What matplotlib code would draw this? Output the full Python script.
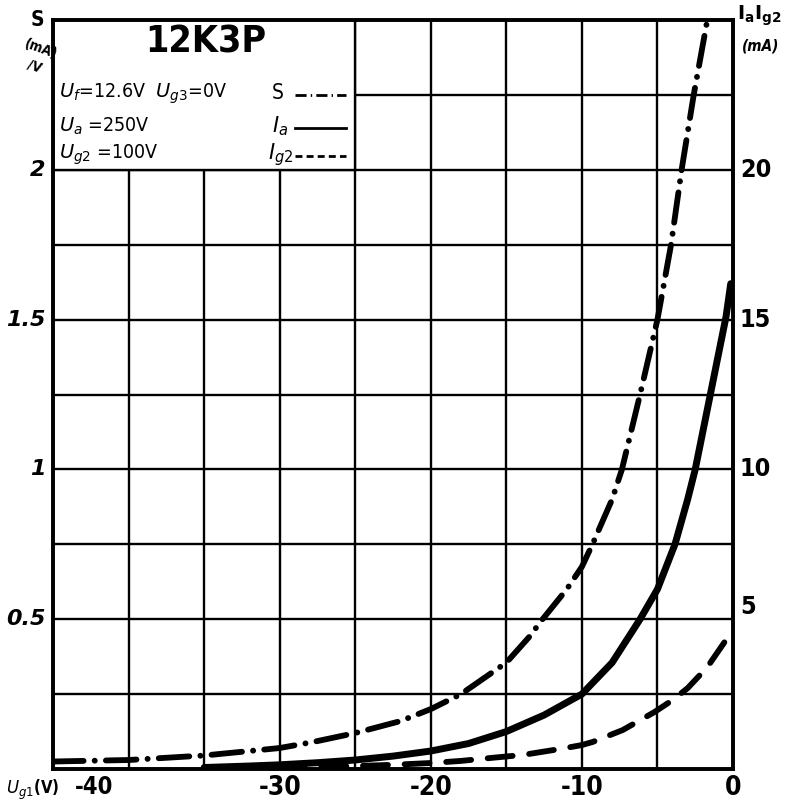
import matplotlib
matplotlib.use("Agg")
import matplotlib.pyplot as plt
from matplotlib.patches import Rectangle

# ---- data ----
s_v = [-45, -40, -35, -30, -27.8, -25, -22, -20, -18, -16, -15, -13.5, -12.6, -11, -10, -9.3, -8.0,
       -7.35, -6.15, -5.0, -4.1, -3.4, -2.6, -1.7]
s_val = [0.025, 0.03, 0.045, 0.07, 0.09, 0.12, 0.16, 0.2, 0.25, 0.32, 0.355, 0.44, 0.5, 0.6, 0.675,
         0.75, 0.9, 1.0, 1.25, 1.5, 1.75, 2.0, 2.25, 2.5]

ia_v = [-35, -32, -30, -27.5, -25, -22.5, -20, -17.5, -15, -12.5, -10, -8, -6.15, -5, -3.84, -3.0,
        -2.5, -1.5, -0.46, -0.15]
ia = [0.05, 0.1, 0.14, 0.21, 0.3, 0.43, 0.6, 0.85, 1.25, 1.8, 2.5, 3.55, 5.0, 6.0, 7.5, 9.0,
      10.0, 12.5, 15.1, 16.2]

ig_v = [-30, -27.5, -25, -22.5, -20, -18, -16, -13.9, -11.3, -10, -9.3, -7.3, -5.2, -4, -3.0, -1.7, -0.2]
ig = [0.03, 0.06, 0.1, 0.14, 0.2, 0.27, 0.37, 0.47, 0.68, 0.8, 0.9, 1.3, 1.9, 2.3, 2.7, 3.4, 4.5]

x_ticks = [-30, -20, -10, 0]
x_tick_labels = ["-30", "-20", "-10", "0"]
s_ticks = [0.5, 1, 1.5, 2]
s_tick_labels = ["0.5", "1", "1.5", "2"]
i_ticks = [5, 10, 15, 20]
i_tick_labels = ["5", "10", "15", "20"]

plt.rcParams['lines.scale_dashes'] = False
FAM = ['DejaVu Sans']
COND = dict(family=FAM, fontstretch='condensed')

fig = plt.figure(figsize=(8.05, 8.07), dpi=100)
ax = fig.add_axes([53/805, 1-769/807, (733-53)/805, (769-20)/807])
ax.set_xlim(-45, 0)
ax.set_ylim(0, 2.5)

# grid
for gx in range(-40, 0, 5):
    ax.axvline(gx, color='black', lw=1.7, zorder=0.5)
for k in range(1, 10):
    ax.axhline(k*0.25, color='black', lw=1.7, zorder=0.5)

for sp in ax.spines.values():
    sp.set_linewidth(2.6)

# legend box (white, covers grid)
ax.add_patch(Rectangle((-45, 2.0), 20, 0.5, facecolor='white', edgecolor='black', lw=1.7, zorder=1))

ax.tick_params(length=0, labelleft=False, labelbottom=False)
ax.set_xticks([])
ax.set_yticks([])

ax2 = ax.twinx()
ax2.set_ylim(0, 25)
ax2.set_yticks([])
ax2.tick_params(length=0)
for sp in ax2.spines.values():
    sp.set_linewidth(2.6)

# curves
ax.plot(s_v, s_val, color='black', lw=4.2, dashes=(22, 8, 0.1, 8), dash_capstyle='round',
        solid_joinstyle='round', zorder=3)
ax2.plot(ia_v, ia, color='black', lw=5.0, solid_capstyle='round', solid_joinstyle='round', zorder=3)
ax2.plot(ig_v, ig, color='black', lw=4.2, dashes=(18, 12), dash_capstyle='round', zorder=3)

# tick labels
for v, t in zip(s_ticks, s_tick_labels):
    ax.text(-45.5, v, t, ha='right', va='center', fontsize=16, fontweight='bold',
            style='italic', family=FAM)
for v, t in zip(i_ticks, i_tick_labels):
    ax2.text(0.45, v, t, ha='left', va='bottom' if v == 5 else 'center', fontsize=18, fontweight='bold',
             **COND)
for v, t in zip(x_ticks, x_tick_labels):
    ax.text(v, -0.02, t, ha='center', va='top', fontsize=19, fontweight='bold', **COND)
ax.text(-42.3, -0.02, "-40", ha='center', va='top', fontsize=17, fontweight='bold', **COND)
ax.text(-48.1, -0.03, r"$U_{g1}$(V)", ha='left', va='top', fontsize=12, fontweight='bold', **COND)

# axis unit labels
fig.text(37/805, 1-20/807, "S", ha='center', va='center', fontsize=15, fontweight='bold', **COND)
fig.text(38/805, 1-58/807, "(mA)\n/V", ha='center', va='center', fontsize=10, fontweight='bold',
         rotation=-20, linespacing=1.4, **COND)
fig.text(737/805, 1-16/807, r"$\mathbf{I_a I_{g2}}$", ha='left', va='center', fontsize=14,
         fontweight='bold', **COND)
fig.text(742/805, 1-46/807, "(mA)", ha='left', va='center', fontsize=11, fontweight='bold',
         style='italic', **COND)

# legend box content
ax.text(-34.9, 2.425, "12K3P", ha='center', va='center', fontsize=27, fontweight='bold', zorder=4, **COND)
ax.text(-44.6, 2.255, r"$U_f$=12.6V  $U_{g3}$=0V", ha='left', va='center', fontsize=14, zorder=4, **COND)
ax.text(-44.6, 2.145, r"$U_a$ =250V", ha='left', va='center', fontsize=14, zorder=4, **COND)
ax.text(-44.6, 2.05, r"$U_{g2}$ =100V", ha='left', va='center', fontsize=14, zorder=4, **COND)
ax.text(-30.5, 2.255, "S", ha='left', va='center', fontsize=15, zorder=4, **COND)
ax.text(-30.5, 2.145, r"$I_a$", ha='left', va='center', fontsize=15, zorder=4, **COND)
ax.text(-30.8, 2.05, r"$I_{g2}$", ha='left', va='center', fontsize=15, zorder=4, **COND)
ax.plot([-29.0, -25.6], [2.25, 2.25], color='black', lw=2, dashes=(8, 3, 1, 3), zorder=4)
ax.plot([-29.0, -25.6], [2.14, 2.14], color='black', lw=2, zorder=4)
ax.plot([-29.0, -25.6], [2.045, 2.045], color='black', lw=2, dashes=(5, 3), zorder=4)

fig.savefig("out.png", dpi=100)
